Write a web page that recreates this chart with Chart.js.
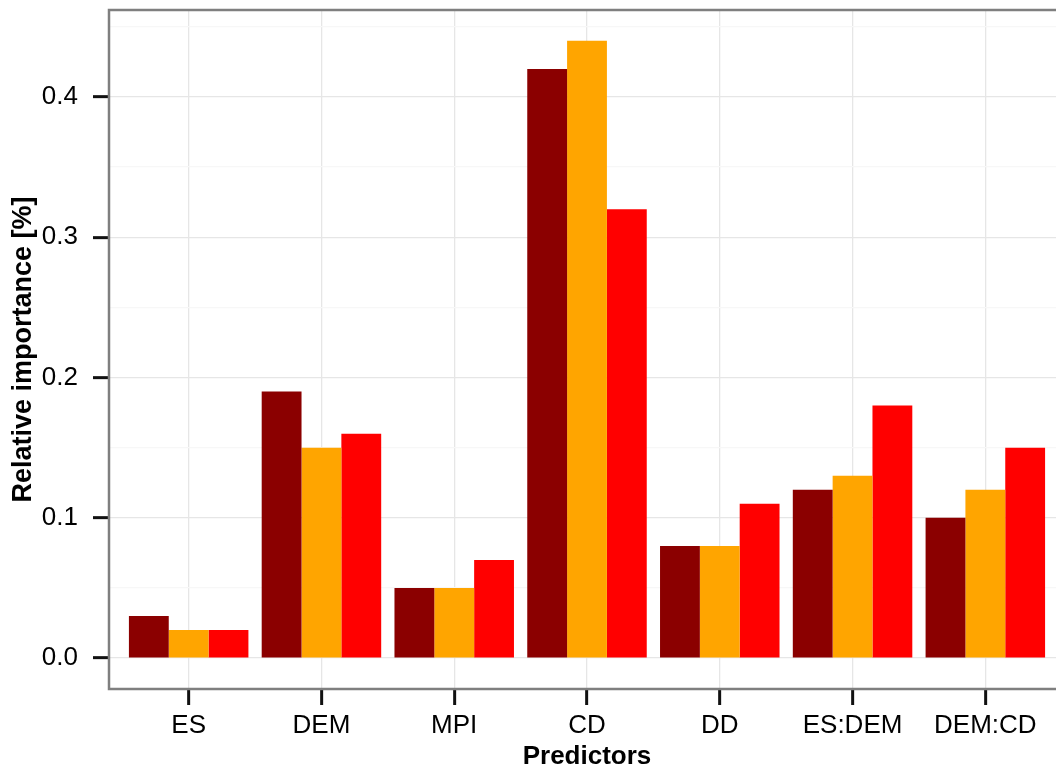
<!DOCTYPE html>
<html>
<head>
<meta charset="utf-8">
<script src="https://cdn.jsdelivr.net/npm/chart.js@4/dist/chart.umd.min.js"></script>
<style>
    html, body { margin: 0; padding: 0; overflow: hidden; background: #fff; }
    #wrap { width: 1070px; height: 771px; position: relative; }
</style>
</head>
<body>
<div id="wrap"><canvas id="grafico"></canvas></div>
<script>
// predictors on the x axis
const predictors = ["ES", "DEM", "MPI", "CD", "DD", "ES:DEM", "DEM:CD"];

// relative importance per model
const modelA = [0.03, 0.19, 0.05, 0.42, 0.08, 0.12, 0.10];
const modelB = [0.02, 0.15, 0.05, 0.44, 0.08, 0.13, 0.12];
const modelC = [0.02, 0.16, 0.07, 0.32, 0.11, 0.18, 0.15];

// y ticks (major every 0.1, minor in between)
const yTicks = [0, 0.05, 0.1, 0.15, 0.2, 0.25, 0.3, 0.35, 0.4, 0.45];

const fonte = "'Liberation Sans', Arial, Helvetica, sans-serif";

function pontos(valores) {
    return valores.map((v, i) => ({ x: i, y: v }));
}

// painel com borda cinza dos quatro lados
const bordaPainel = {
    id: "bordaPainel",
    afterDraw(chart) {
        const a = chart.chartArea;
        const ctx = chart.ctx;
        ctx.save();
        ctx.strokeStyle = "#7f7f7f";
        ctx.lineWidth = 2.5;
        ctx.strokeRect(a.left, a.top, a.right - a.left, a.bottom - a.top);
        ctx.restore();
    }
};

new Chart(document.getElementById("grafico"), {
    type: "bar",
    data: {
        datasets: [
            { label: "A", data: pontos(modelA), backgroundColor: "#8B0000" },
            { label: "B", data: pontos(modelB), backgroundColor: "#FFA500" },
            { label: "C", data: pontos(modelC), backgroundColor: "#FF0000" }
        ]
    },
    options: {
        responsive: true,
        maintainAspectRatio: false,
        animation: false,
        categoryPercentage: 0.9,
        barPercentage: 1,
        layout: { padding: { top: 10, right: 5, left: 0, bottom: 0 } },
        plugins: {
            legend: { display: false },
            tooltip: { enabled: false }
        },
        scales: {
            x: {
                type: "linear",
                min: -0.6,
                max: 6.6,
                offset: false,
                afterBuildTicks: s => { s.ticks = predictors.map((p, i) => ({ value: i })); },
                afterFit: s => {
                    s.height = 82;
                    s.paddingLeft = 0;
                    s.paddingRight = 0;
                },
                border: { display: false },
                grid: {
                    offset: false,
                    color: "#e6e6e6",
                    lineWidth: 1.3,
                    tickLength: 16,
                    tickWidth: 3,
                    tickColor: "#111"
                },
                ticks: {
                    autoSkip: false,
                    maxRotation: 0,
                    padding: 5,
                    color: "#000",
                    font: { family: fonte, size: 26 },
                    callback: v => predictors[v]
                },
                title: {
                    display: true,
                    text: "Predictors",
                    color: "#000",
                    padding: { top: 0, bottom: 0 },
                    font: { family: fonte, size: 26, weight: "bold", lineHeight: 1.1 }
                }
            },
            y: {
                min: -0.022,
                max: 0.462,
                afterBuildTicks: s => { s.ticks = yTicks.map(v => ({ value: v })); },
                afterFit: s => {
                    s.width = 109;
                    s.paddingTop = 0;
                    s.paddingBottom = 0;
                },
                border: { display: false },
                grid: {
                    color: c => c.index % 2 ? "#f7f7f7" : "#e6e6e6",
                    lineWidth: 1.3,
                    tickLength: 16,
                    tickWidth: 3,
                    tickColor: c => c.index % 2 ? "rgba(0,0,0,0)" : "#111"
                },
                ticks: {
                    autoSkip: false,
                    padding: 15,
                    color: "#000",
                    font: { family: fonte, size: 26 },
                    callback: (v, i) => i % 2 ? "" : v.toFixed(1)
                },
                title: {
                    display: true,
                    text: "Relative importance [%]",
                    color: "#000",
                    padding: { top: 7, bottom: 0 },
                    font: { family: fonte, size: 27, weight: "bold", lineHeight: 1.2 }
                }
            }
        }
    },
    plugins: [bordaPainel]
});
</script>
</body>
</html>
